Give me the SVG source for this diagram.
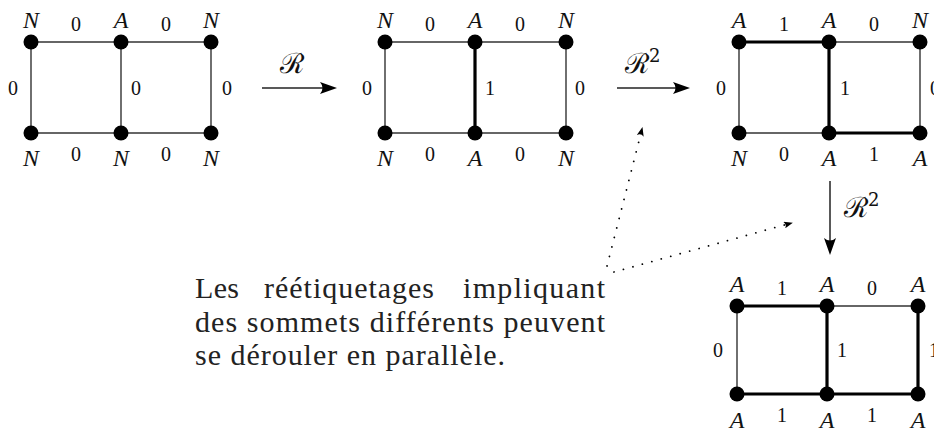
<svg xmlns="http://www.w3.org/2000/svg" width="934" height="429" viewBox="0 0 934 429">
<style>
.thin{stroke:#333;stroke-width:1.4;fill:none}
.thick{stroke:#000;stroke-width:3.2;fill:none}
.node circle{fill:#000}
.node text{font-family:"Liberation Serif",serif;font-style:italic;font-size:24px;text-anchor:middle;fill:#111}
.num{font-family:"Liberation Serif",serif;font-size:20px;text-anchor:middle;fill:#111}
.arrow{stroke:#222;stroke-width:1.5;fill:none}
.dots{stroke:#000;stroke-width:1.8;fill:none;stroke-linecap:round;stroke-dasharray:0.01 9.8}
.scr{font-family:"DejaVu Serif",serif;font-size:28px;fill:#111}
.txt{font-family:"Liberation Serif",serif;font-size:30px;fill:#222}
</style>
<defs>
<marker id="arr" viewBox="0 0 17 12" refX="9" refY="6" markerWidth="17" markerHeight="12" markerUnits="userSpaceOnUse" orient="auto"><path d="M17,6 L0,0 Q5,6 0,12 Z" fill="#000"/></marker>
<marker id="arrs" viewBox="0 0 9 7" refX="5" refY="3.5" markerWidth="9" markerHeight="7" markerUnits="userSpaceOnUse" orient="auto"><path d="M9,3.5 L0,0 Q3,3.5 0,7 Z" fill="#000"/></marker>
</defs>

<g id="connectors">
<!-- graph 1 -->
<line class="thin" x1="31" y1="42" x2="121" y2="42"/>
<line class="thin" x1="121" y1="42" x2="211" y2="42"/>
<line class="thin" x1="31" y1="133" x2="121" y2="133"/>
<line class="thin" x1="121" y1="133" x2="211" y2="133"/>
<line class="thin" x1="31" y1="42" x2="31" y2="133"/>
<line class="thin" x1="121" y1="42" x2="121" y2="133"/>
<line class="thin" x1="211" y1="42" x2="211" y2="133"/>
<!-- graph 2 -->
<line class="thin" x1="385" y1="42" x2="475" y2="42"/>
<line class="thin" x1="475" y1="42" x2="566" y2="42"/>
<line class="thin" x1="385" y1="133" x2="475" y2="133"/>
<line class="thin" x1="475" y1="133" x2="566" y2="133"/>
<line class="thin" x1="385" y1="42" x2="385" y2="133"/>
<line class="thick" x1="475" y1="42" x2="475" y2="133"/>
<line class="thin" x1="566" y1="42" x2="566" y2="133"/>
<!-- graph 3 -->
<line class="thick" x1="739" y1="42" x2="829" y2="42"/>
<line class="thin" x1="829" y1="42" x2="920" y2="42"/>
<line class="thin" x1="739" y1="133" x2="829" y2="133"/>
<line class="thick" x1="829" y1="133" x2="920" y2="133"/>
<line class="thin" x1="739" y1="42" x2="739" y2="133"/>
<line class="thick" x1="829" y1="42" x2="829" y2="133"/>
<line class="thin" x1="920" y1="42" x2="920" y2="133"/>
<!-- graph 4 -->
<line class="thick" x1="737" y1="306" x2="827" y2="306"/>
<line class="thin" x1="827" y1="306" x2="918" y2="306"/>
<line class="thick" x1="737" y1="394" x2="827" y2="394"/>
<line class="thick" x1="827" y1="394" x2="918" y2="394"/>
<line class="thin" x1="737" y1="306" x2="737" y2="394"/>
<line class="thick" x1="827" y1="306" x2="827" y2="394"/>
<line class="thick" x1="918" y1="306" x2="918" y2="394"/>
<!-- transition arrows -->
<line class="arrow" x1="262" y1="88" x2="329" y2="88" marker-end="url(#arr)"/>
<line class="arrow" x1="617" y1="88" x2="682" y2="88" marker-end="url(#arr)"/>
<line class="arrow" x1="830" y1="181" x2="830" y2="247" marker-end="url(#arr)"/>
<!-- dotted arrows -->
<line class="dots" x1="607" y1="266" x2="641.5" y2="131" marker-end="url(#arrs)"/>
<line class="dots" x1="614" y1="272" x2="789" y2="223.7" marker-end="url(#arrs)"/>
</g>

<g id="edge-labels" class="num">
<text x="76" y="31">0</text><text x="166" y="31">0</text>
<text x="76" y="161">0</text><text x="166" y="161">0</text>
<text x="13" y="95">0</text><text x="136" y="95">0</text><text x="227" y="95">0</text>

<text x="430" y="31">0</text><text x="520" y="31">0</text>
<text x="430" y="161">0</text><text x="520" y="161">0</text>
<text x="367" y="95">0</text><text x="490" y="95">1</text><text x="580" y="95">0</text>

<text x="784" y="31">1</text><text x="874" y="31">0</text>
<text x="784" y="161">0</text><text x="874" y="161">1</text>
<text x="721" y="95">0</text><text x="845" y="95">1</text><text x="935" y="95">0</text>

<text x="782" y="295">1</text><text x="872" y="295">0</text>
<text x="782" y="422">1</text><text x="872" y="422">1</text>
<text x="718" y="357">0</text><text x="842" y="357">1</text><text x="934" y="357">1</text>
</g>

<g id="transition-labels" class="scr">
<text x="280" y="73">ℛ</text>
<text x="625" y="73">ℛ<tspan font-size="18" dy="-11">2</tspan></text>
<text x="844" y="217">ℛ<tspan font-size="18" dy="-11">2</tspan></text>
</g>

<!-- graph 1 nodes -->
<g id="g1-n1" class="node"><circle cx="31" cy="42" r="7.5"/><text x="31" y="28">N</text></g>
<g id="g1-n2" class="node"><circle cx="121" cy="42" r="7.5"/><text x="121" y="28">A</text></g>
<g id="g1-n3" class="node"><circle cx="211" cy="42" r="7.5"/><text x="211" y="28">N</text></g>
<g id="g1-n4" class="node"><circle cx="31" cy="133" r="7.5"/><text x="31" y="166">N</text></g>
<g id="g1-n5" class="node"><circle cx="121" cy="133" r="7.5"/><text x="121" y="166">N</text></g>
<g id="g1-n6" class="node"><circle cx="211" cy="133" r="7.5"/><text x="211" y="166">N</text></g>
<!-- graph 2 nodes -->
<g id="g2-n1" class="node"><circle cx="385" cy="42" r="7.5"/><text x="385" y="28">N</text></g>
<g id="g2-n2" class="node"><circle cx="475" cy="42" r="7.5"/><text x="475" y="28">A</text></g>
<g id="g2-n3" class="node"><circle cx="566" cy="42" r="7.5"/><text x="566" y="28">N</text></g>
<g id="g2-n4" class="node"><circle cx="385" cy="133" r="7.5"/><text x="385" y="166">N</text></g>
<g id="g2-n5" class="node"><circle cx="475" cy="133" r="7.5"/><text x="475" y="166">A</text></g>
<g id="g2-n6" class="node"><circle cx="566" cy="133" r="7.5"/><text x="566" y="166">N</text></g>
<!-- graph 3 nodes -->
<g id="g3-n1" class="node"><circle cx="739" cy="42" r="7.5"/><text x="739" y="28">A</text></g>
<g id="g3-n2" class="node"><circle cx="829" cy="42" r="7.5"/><text x="829" y="28">A</text></g>
<g id="g3-n3" class="node"><circle cx="920" cy="42" r="7.5"/><text x="920" y="28">N</text></g>
<g id="g3-n4" class="node"><circle cx="739" cy="133" r="7.5"/><text x="739" y="166">N</text></g>
<g id="g3-n5" class="node"><circle cx="829" cy="133" r="7.5"/><text x="829" y="166">A</text></g>
<g id="g3-n6" class="node"><circle cx="920" cy="133" r="7.5"/><text x="920" y="166">A</text></g>
<!-- graph 4 nodes -->
<g id="g4-n1" class="node"><circle cx="737" cy="306" r="7.5"/><text x="737" y="292">A</text></g>
<g id="g4-n2" class="node"><circle cx="827" cy="306" r="7.5"/><text x="827" y="292">A</text></g>
<g id="g4-n3" class="node"><circle cx="918" cy="306" r="7.5"/><text x="918" y="292">A</text></g>
<g id="g4-n4" class="node"><circle cx="737" cy="394" r="7.5"/><text x="737" y="428">A</text></g>
<g id="g4-n5" class="node"><circle cx="827" cy="394" r="7.5"/><text x="827" y="428">A</text></g>
<g id="g4-n6" class="node"><circle cx="918" cy="394" r="7.5"/><text x="918" y="428">A</text></g>

<g id="caption" class="txt">
<text x="195" y="298" textLength="44" lengthAdjust="spacing">Les</text>
<text x="264" y="298" textLength="170" lengthAdjust="spacing">réétiquetages</text>
<text x="463" y="298" textLength="142" lengthAdjust="spacing">impliquant</text>
<text x="195" y="332" textLength="410" lengthAdjust="spacing">des sommets différents peuvent</text>
<text x="195" y="365" textLength="310" lengthAdjust="spacing">se dérouler en parallèle.</text>
</g>
</svg>
